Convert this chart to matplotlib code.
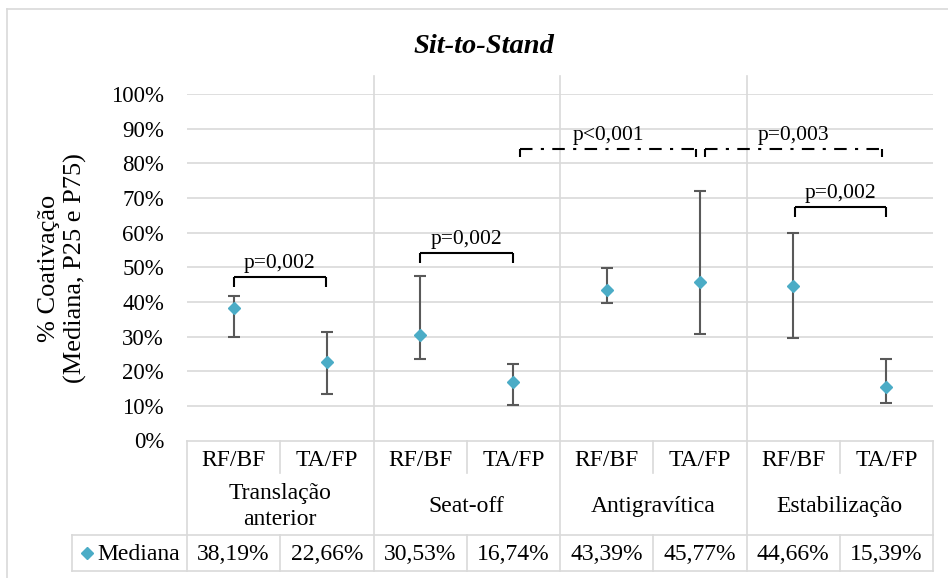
import matplotlib
matplotlib.use("Agg")
import matplotlib.pyplot as plt
from matplotlib.transforms import Affine2D, blended_transform_factory
import numpy as np

plt.rcParams['font.family'] = ['Liberation Serif', 'DejaVu Serif']

title = "Sit-to-Stand"
ylabel = "% Coativação\n(Mediana, P25 e P75)"
subcats = ["RF/BF", "TA/FP", "RF/BF", "TA/FP", "RF/BF", "TA/FP", "RF/BF", "TA/FP"]
groups = ["Translação\nanterior", "Seat-off", "Antigravítica", "Estabilização"]
series_name = "Mediana"
median = [38.19, 22.66, 30.53, 16.74, 43.39, 45.77, 44.66, 15.39]
p75 = [41.7, 31.2, 47.5, 22.2, 49.7, 72.0, 59.9, 23.5]
p25 = [30.0, 13.4, 23.5, 10.3, 39.6, 30.7, 29.6, 10.8]
median_labels = ["38,19%", "22,66%", "30,53%", "16,74%", "43,39%", "45,77%", "44,66%", "15,39%"]
yticks = [0, 10, 20, 30, 40, 50, 60, 70, 80, 90, 100]
ytick_labels = ["0%", "10%", "20%", "30%", "40%", "50%", "60%", "70%", "80%", "90%", "100%"]
# comparisons between categories
comp_from = [0, 2, 3.07, 5.05, 6.02]
comp_to = [0.99, 3.0, 4.96, 6.95, 7.0]
comp_top = [47.1, 54.1, 84.1, 84.1, 67.4]
comp_bottom = [44.3, 51.2, 81.9, 81.9, 64.5]
comp_label = ["p=0,002", "p=0,002", "p<0,001", "p=0,003", "p=0,002"]
comp_label_y = [49.7, 56.6, 86.7, 86.7, 70.0]
comp_dashed = [False, False, True, True, False]

W, H = 948, 578
fig = plt.figure(figsize=(W / 100, H / 100), dpi=100)
px = Affine2D().scale(1 / 100, -1 / 100).translate(0, H / 100) + fig.dpi_scale_trans

left, right, top, bottom = 187, 933, 94, 440.5
ax = fig.add_axes([left / W, (H - bottom) / H, (right - left) / W, (bottom - top) / H])
n = len(subcats)
x = np.arange(n)
ax.set_xlim(-0.5, n - 0.5)
ax.set_ylim(0, 100)
for s in ax.spines.values():
    s.set_visible(False)
ax.set_xticks([])
ax.set_yticks(yticks)
ax.set_yticklabels(ytick_labels)
ax.tick_params(axis='y', length=0, pad=16.5, labelsize=16.5)
grid_c = '#D9D9D9'
glw = 1.2
for yv in yticks[1:]:
    ax.axhline(yv, color=grid_c, lw=glw, zorder=0)

xt = blended_transform_factory(ax.transData, px)

# group separators (plot + table)
for b in [1.5, 3.5, 5.5]:
    ax.plot([b, b], [76, 571], color=grid_c, lw=glw, transform=xt, clip_on=False, zorder=0)

# table lines
ax.plot([-0.5, n - 0.5], [441, 441], color=grid_c, lw=glw, transform=xt, clip_on=False)
for xv in [-0.5, n - 0.5]:
    ax.plot([xv, xv], [441, 571], color=grid_c, lw=glw, transform=xt, clip_on=False)
for b in [0.5, 2.5, 4.5, 6.5]:
    ax.plot([b, b], [441, 473], color=grid_c, lw=glw, transform=xt, clip_on=False)
    ax.plot([b, b], [535, 571], color=grid_c, lw=glw, transform=xt, clip_on=False)
for yv in [535, 571]:
    fig.add_artist(plt.Line2D([72, right], [yv, yv], color=grid_c, lw=glw, transform=px))
fig.add_artist(plt.Line2D([72, 72], [535, 571], color=grid_c, lw=glw, transform=px))

# outer chart border
fig.add_artist(plt.Line2D([7, W], [9, 9], color=grid_c, lw=glw, transform=px))
fig.add_artist(plt.Line2D([7, 7], [9, H], color=grid_c, lw=glw, transform=px))

# error bars & markers
med = np.array(median)
err = [med - np.array(p25), np.array(p75) - med]
ax.errorbar(x, med, yerr=err, fmt='none', ecolor='#595959', elinewidth=1.5,
            capsize=4.5, capthick=1.5, zorder=3)
ax.plot(x, med, 'D', color='#4BACC6', markersize=6.5, zorder=4, linestyle='none')

# comparison brackets
for a, b, t, bt, lab, ly, d in zip(comp_from, comp_to, comp_top, comp_bottom,
                                    comp_label, comp_label_y, comp_dashed):
    if d:
        ax.plot([a, b], [t, t], color='black', lw=1.5, linestyle=(0, (6, 4, 1.5, 4)),
                clip_on=False, zorder=5)
    else:
        ax.plot([a, b], [t, t], color='black', lw=1.5, clip_on=False, zorder=5,
                solid_capstyle='butt')
    for xv in [a, b]:
        ax.plot([xv, xv], [bt, t], color='black', lw=1.5, clip_on=False, zorder=5,
                solid_capstyle='butt')
    ax.text((a + b) / 2, ly, lab, ha='center', va='baseline', fontsize=15.5, zorder=6)

# table text
for i, lab in enumerate(subcats):
    ax.text(i, 465.5, lab, transform=xt, ha='center', va='baseline', fontsize=17)
    ax.text(i, 560.5, median_labels[i], transform=xt, ha='center', va='baseline', fontsize=17)
for g, name in enumerate(groups):
    lines = name.split('\n')
    m = len(lines)
    for k, ln in enumerate(lines):
        yb = 512 + (k - (m - 1) / 2) * 26
        ax.text(2 * g + 0.5, yb, ln, transform=xt, ha='center', va='baseline', fontsize=17)

# legend cell
fig.add_artist(plt.Line2D([87], [553], marker='D', color='#4BACC6', markersize=6.5,
                          linestyle='none', transform=px))
fig.text(97, 560.5, series_name, transform=px, ha='left', va='baseline', fontsize=17)

# title & y label
fig.text(484, 53.3, title, transform=px, ha='center', va='baseline', fontsize=20.5,
         fontweight='bold', fontstyle='italic')
fig.text(62.5, 268, ylabel, transform=px, ha='center', va='center', rotation=90,
         fontsize=19, multialignment='center', linespacing=1.2)

fig.savefig('out.png', dpi=100)
